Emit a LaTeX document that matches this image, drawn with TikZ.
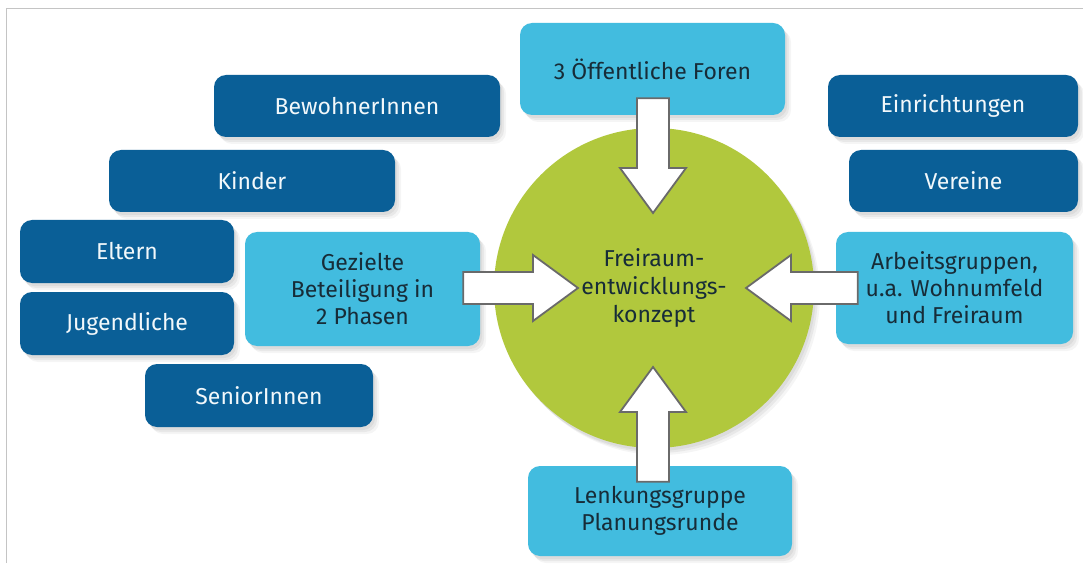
\documentclass[tikz,border=0pt]{standalone}
\usepackage{fontspec}
\setmainfont{Fira Sans}
\usetikzlibrary{calc}
\definecolor{darkb}{HTML}{0A5F97}
\definecolor{lightb}{HTML}{42BCDF}
\definecolor{grn}{HTML}{B1C83D}
\definecolor{txtd}{HTML}{172C38}
\definecolor{txtl}{HTML}{F2F8FB}
\definecolor{bordergray}{HTML}{C4C4C4}
\definecolor{arrgray}{HTML}{6A6A6A}
\newcommand\blockarrow[2]{%
  \draw[barrow] let \p1=($(#2)-(#1)$), \n1={atan2(\y1,\x1)}, \n2={veclen(\x1,\y1)} in
  [shift={(#1)}, rotate=\n1] (0,-16) -- ({\n2-45},-16) -- ({\n2-45},-33) -- (\n2,0)
  -- ({\n2-45},33) -- ({\n2-45},16) -- (0,16) -- cycle;}
\begin{document}
\begin{tikzpicture}[x=1pt,y=1pt,
  softshadow/.style={
    preaction={fill=black,opacity=0.05,transform canvas={xshift=2pt,yshift=-3pt}},
    preaction={fill=black,opacity=0.05,transform canvas={xshift=4pt,yshift=-5pt}},
    preaction={fill=black,opacity=0.04,transform canvas={xshift=6pt,yshift=-7pt}}},
  basebox/.style={rounded corners=12pt, inner sep=0pt, align=center,
    font=\fontsize{23pt}{27pt}\selectfont, softshadow},
  darkbox/.style={basebox, fill=darkb, text=txtl},
  lightbox/.style={basebox, fill=lightb, text=txtd},
  barrow/.style={fill=white, draw=arrgray, line width=1.8pt, line join=miter}]
\useasboundingbox (0,0) rectangle (1083,563);
\fill[white] (0,0) rectangle (1083,563);
\draw[bordergray, line width=1.5pt] (6.7,0) -- (6.7,554.7) -- (1083,554.7);

\node[circle, fill=grn, minimum size=320pt, inner sep=0pt, softshadow, text=txtd,
  align=center, font=\fontsize{23pt}{28pt}\selectfont] (circ) at (654,275)
  {Freiraum-\\entwicklungs-\\konzept};

\node[lightbox, minimum width=265pt, minimum height=92pt] (foren) at (652.5,494) {3 Öffentliche Foren};
\node[darkbox, minimum width=286pt, minimum height=62pt] (bewohner) at (357,457) {BewohnerInnen};
\node[darkbox, minimum width=286pt, minimum height=62pt] (kinder) at (252,382) {Kinder};
\node[darkbox, minimum width=214pt, minimum height=63pt] (eltern) at (127,311.5) {Eltern};
\node[darkbox, minimum width=214pt, minimum height=63pt] (jugend) at (127,239.5) {Jugendliche};
\node[darkbox, minimum width=228pt, minimum height=63pt] (senior) at (259,167.5) {SeniorInnen};
\node[lightbox, minimum width=235pt, minimum height=114pt] (gezielt) at (362.5,274) {Gezielte\\Beteiligung in\\2 Phasen};
\node[darkbox, minimum width=250pt, minimum height=62pt] (einr) at (953,457) {Einrichtungen};
\node[darkbox, minimum width=229pt, minimum height=62pt] (vereine) at (963.5,382) {Vereine};
\node[lightbox, minimum width=237pt, minimum height=112pt] (arbeit) at (954.5,275) {Arbeitsgruppen,\\u.a. Wohnumfeld\\und Freiraum};
\node[lightbox, minimum width=264pt, minimum height=90pt] (lenkung) at (660,52) {Lenkungsgruppe\\Planungsrunde};

\coordinate (tA) at ($(foren.south)+(0.5,17)$);
\coordinate (tB) at ($(circ.center)+(-1,75)$);
\coordinate (bA) at ($(lenkung.north)+(-7,-16)$);
\coordinate (bB) at ($(circ.center)+(-1,-79)$);
\coordinate (lA) at ($(gezielt.east)+(-17,1)$);
\coordinate (lB) at ($(circ.center)+(-76,0)$);
\coordinate (rA) at ($(arbeit.west)+(22,0)$);
\coordinate (rB) at ($(circ.center)+(92,0)$);
\blockarrow{tA}{tB}
\blockarrow{bA}{bB}
\blockarrow{lA}{lB}
\blockarrow{rA}{rB}
\end{tikzpicture}
\end{document}
